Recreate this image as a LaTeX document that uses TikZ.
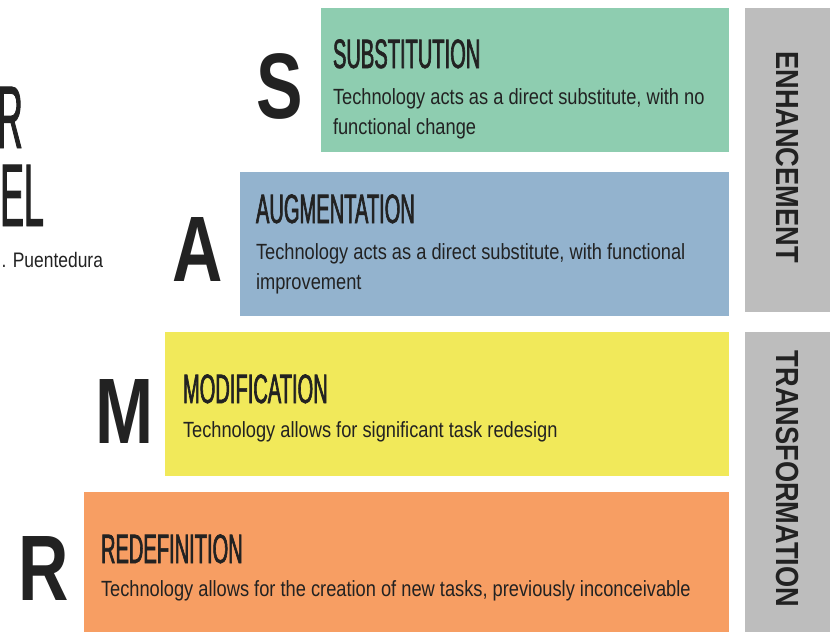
\documentclass[tikz,border=0pt]{standalone}
\usepackage{fontspec}
\setmainfont{Liberation Sans}
\newfontfamily\bodyfont[FakeStretch=0.83]{Liberation Sans}
\newfontfamily\headfont[FakeStretch=0.49,FakeBold=1.5]{Liberation Sans}
\newfontfamily\titlefont[FakeStretch=0.4,FakeBold=1]{Liberation Sans}
\newfontfamily\bigfont[FakeStretch=0.75]{Liberation Sans}
\newfontfamily\sidefont[FakeStretch=0.85]{Liberation Sans}
\definecolor{cgreen}{HTML}{8ECDB0}
\definecolor{cblue}{HTML}{93B3CE}
\definecolor{cyellow}{HTML}{F1E95A}
\definecolor{corange}{HTML}{F79E63}
\definecolor{cgray}{HTML}{BDBDBD}
\definecolor{ctext}{HTML}{222222}
\tikzset{
  band/.style={fill=#1, draw=none},
  txt/.style={inner sep=0pt, outer sep=0pt, text=ctext, anchor=base west},
  headtxt/.style={txt, font=\headfont\fontsize{41}{41}\selectfont},
  bodytxt/.style={txt, font=\bodyfont\fontsize{22}{22}\selectfont},
  bigletter/.style={inner sep=0pt, text=ctext, anchor=base, font=\bigfont\bfseries\fontsize{93}{93}\selectfont},
  sidetxt/.style={inner sep=0pt, text=ctext, rotate=-90, font=\sidefont\bfseries\fontsize{32}{32}\selectfont},
  titletxt/.style={inner sep=0pt, text=ctext, anchor=base east, text height=64pt, text depth=0pt, font=\titlefont\fontsize{89}{60}\selectfont},
}
\begin{document}
\begin{tikzpicture}[x=1pt,y=-1pt]
\useasboundingbox (0,0) rectangle (831,632);
\fill[white] (0,0) rectangle (831,632);
% bands
\path[band=cgreen]  (321,8)   rectangle (729,152);
\path[band=cblue]   (240,172) rectangle (729,316);
\path[band=cyellow] (165,332) rectangle (729,476);
\path[band=corange] (84,492)  rectangle (729,632);
\path[band=cgray]   (745,8)   rectangle (830,312);
\path[band=cgray]   (745,332) rectangle (830,632);
% side labels
\node[sidetxt] (enh) at (788,157) {ENHANCEMENT};
\node[sidetxt] (trf) at (788,479) {TRANSFORMATION};
% big letters
\node[bigletter] (bS) at (280,118) {S};
\node[bigletter] (bA) at (198,281) {A};
\node[bigletter] (bM) at (125,443) {M};
\node[bigletter] (bR) at (44,600) {R};
% title remains
\node[titletxt] (t1) at (23,148) {R};
\node[titletxt] (t2) at (44,226) {EL};
\node[txt, anchor=base east, font=\bodyfont\fontsize{21}{21}\selectfont] (t3) at (103,267) {. Puentedura};
% S
\node[headtxt] (hS) at (333,68) {SUBSTITUTION};
\node[bodytxt] (dS1) at (333,104) {Technology acts as a direct substitute, with no};
\node[bodytxt] (dS2) at (333,134) {functional change};
% A
\node[headtxt] (hA) at (256,223) {AUGMENTATION};
\node[bodytxt] (dA1) at (256,259) {Technology acts as a direct substitute, with functional};
\node[bodytxt] (dA2) at (256,289) {improvement};
% M
\node[headtxt] (hM) at (183,403) {MODIFICATION};
\node[bodytxt] (dM1) at (183,437) {Technology allows for significant task redesign};
% R
\node[headtxt] (hR) at (101,563) {REDEFINITION};
\node[bodytxt] (dR1) at (101,596) {Technology allows for the creation of new tasks, previously inconceivable};
\end{tikzpicture}
\end{document}
